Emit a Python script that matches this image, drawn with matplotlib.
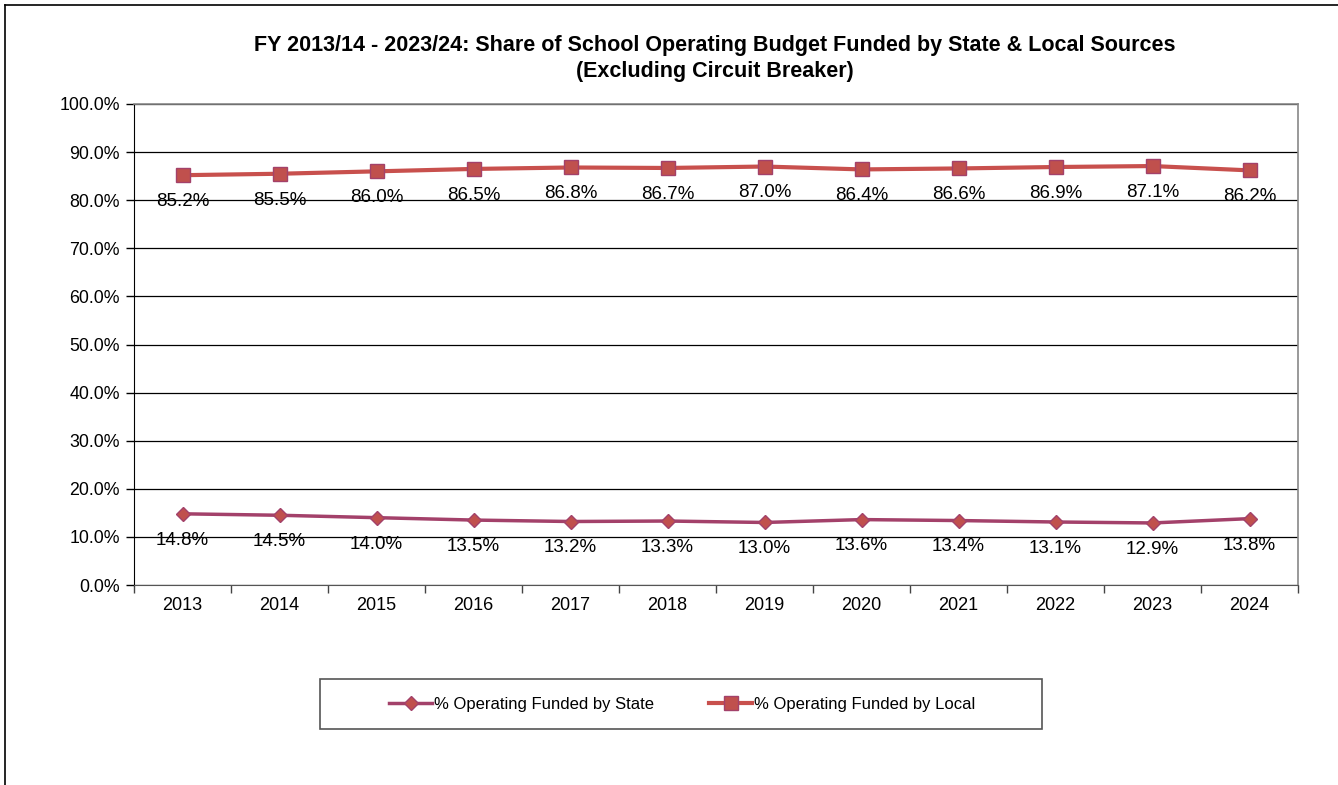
import matplotlib.pyplot as plt
from matplotlib.lines import Line2D
from matplotlib.patches import Rectangle
from matplotlib.ticker import FixedLocator, NullFormatter

years = ['2013', '2014', '2015', '2016', '2017', '2018', '2019', '2020', '2021', '2022', '2023', '2024']
state = [14.8, 14.5, 14.0, 13.5, 13.2, 13.3, 13.0, 13.6, 13.4, 13.1, 12.9, 13.8]
local = [85.2, 85.5, 86.0, 86.5, 86.8, 86.7, 87.0, 86.4, 86.6, 86.9, 87.1, 86.2]

plt.rcParams['font.family'] = ['Liberation Sans', 'DejaVu Sans']

fig = plt.figure(figsize=(13.38, 7.85), dpi=100)
ax = fig.add_axes([134/1338, 1 - 585/785, (1298 - 134)/1338, (585 - 104)/785])

x = list(range(len(years)))
ax.plot(x, state, color='#A3416A', lw=2.5, marker='D', ms=7,
        mfc='#C0504D', mec='#A3416A', mew=1, label='% Operating Funded by State', zorder=3)
ax.plot(x, local, color='#C8504D', lw=3, marker='s', ms=10,
        mfc='#C0504D', mec='#A3416A', mew=1, label='% Operating Funded by Local', zorder=3)

# data labels under each point
for xi, v in zip(x, state):
    ax.annotate(f'{v:.1f}%', (xi, v), xytext=(0, -19), textcoords='offset points',
                ha='center', va='center', fontsize=13.5)
for xi, v in zip(x, local):
    ax.annotate(f'{v:.1f}%', (xi, v), xytext=(0, -19), textcoords='offset points',
                ha='center', va='center', fontsize=13.5)

ax.set_xlim(-0.5, len(years) - 0.5)
ax.set_ylim(0, 100)
ax.set_yticks(range(0, 101, 10))
ax.set_yticklabels([f'{v:.1f}%' for v in range(0, 101, 10)], fontsize=12.8)
ax.set_xticks(x)
ax.set_xticklabels(years, fontsize=13)
ax.xaxis.set_minor_locator(FixedLocator([i - 0.5 for i in range(len(years) + 1)]))
ax.xaxis.set_minor_formatter(NullFormatter())
ax.tick_params(axis='x', which='major', length=0, pad=9)
ax.tick_params(axis='x', which='minor', length=6, width=1, color='#444444')
ax.tick_params(axis='y', length=6, width=1, color='black', pad=4)

ax.grid(axis='y', color='black', lw=0.9)
ax.set_axisbelow(True)
for s in ['top', 'right']:
    ax.spines[s].set_color('#888888')
    ax.spines[s].set_linewidth(1.2)
ax.spines['left'].set_color('black')
ax.spines['bottom'].set_color('#555555')

fig.text(715/1338, 1 - 46/785, 'FY 2013/14 - 2023/24: Share of School Operating Budget Funded by State & Local Sources',
         ha='center', va='center', fontsize=15.5, fontweight='bold')
fig.text(715/1338, 1 - 72/785, '(Excluding Circuit Breaker)',
         ha='center', va='center', fontsize=15.5, fontweight='bold')

# legend box + entries
fig.add_artist(Rectangle((320/1338, 1 - 729/785), 722/1338, 50/785, transform=fig.transFigure,
                         fill=False, edgecolor='#555555', lw=1.2))
fig.legend(loc='center', bbox_to_anchor=(682/1338, 1 - 704/785), ncol=2, fontsize=12,
           frameon=False, columnspacing=3.3, handlelength=2.6, handletextpad=0.1)

# outer chart frame
fig.add_artist(Line2D([5/1338, 5/1338], [0, 1 - 5/785], color='black', lw=1.2))
fig.add_artist(Line2D([5/1338, 1], [1 - 5/785, 1 - 5/785], color='black', lw=1.2))

fig.savefig('out.png', dpi=100)
